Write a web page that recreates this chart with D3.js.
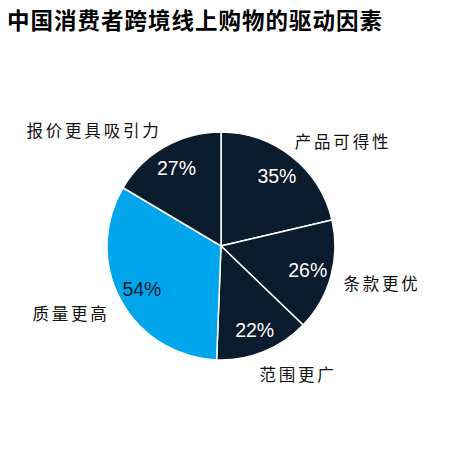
<!DOCTYPE html>
<html>
<head>
<meta charset="utf-8">
<script src="https://cdn.jsdelivr.net/npm/d3@7"></script>
<style>
  body { margin: 0; background: #fff; }
  svg { display: block; }
</style>
</head>
<body>
<div id="chart"></div>
<script>
// data
var categories = ["产品可得性", "条款更优", "范围更广", "质量更高", "报价更具吸引力"];
var values = [35, 26, 22, 54, 27];
var sliceColors = ["#0b1c2c", "#0b1c2c", "#0b1c2c", "#00a5ec", "#0b1c2c"];
var pctColors = ["#fff", "#fff", "#fff", "#0b1c2c", "#fff"];

// where the category names sit (label layout only)
var nameAnchors = [[343, 142], [382, 284], [298, 375], [71, 314], [94, 131]];

var svgWidth = 463;
var svgHeight = 463;
var cx = 221, cy = 246, radius = 114;

var svg = d3.select("#chart")
    .append("svg")
    .attr("width", svgWidth)
    .attr("height", svgHeight);

// title
svg.append("text")
    .attr("x", 7)
    .attr("y", 29)
    .style("font-family", "'Noto Sans CJK SC', sans-serif")
    .style("font-weight", "700")
    .style("font-size", "22.5px")
    .style("letter-spacing", "1px")
    .attr("fill", "#000")
    .text("中国消费者跨境线上购物的驱动因素");

var pie = d3.pie()
    .sort(null)
    .value(d => d);

var arc = d3.arc()
    .innerRadius(0)
    .outerRadius(radius);

var labelArc = d3.arc()
    .innerRadius(90)
    .outerRadius(90);

var pieGroup = svg.append("g")
    .attr("transform", `translate(${cx}, ${cy})`);

var arcs = pie(values);

pieGroup.selectAll("path")
    .data(arcs)
    .enter()
    .append("path")
    .attr("d", arc)
    .attr("fill", (d, i) => sliceColors[i])
    .attr("stroke", "#fff")
    .attr("stroke-width", 1.5);

// percent labels
pieGroup.selectAll("text.pct")
    .data(arcs)
    .enter()
    .append("text")
    .attr("class", "pct")
    .attr("transform", d => `translate(${labelArc.centroid(d)})`)
    .attr("text-anchor", "middle")
    .attr("dy", "0.36em")
    .style("font-family", "'Liberation Sans', Arial, sans-serif")
    .style("font-size", "19.5px")
    .attr("fill", (d, i) => pctColors[i])
    .text(d => d.data + "%");

// category names
svg.selectAll("text.name")
    .data(categories)
    .enter()
    .append("text")
    .attr("class", "name")
    .attr("x", (d, i) => nameAnchors[i][0])
    .attr("y", (d, i) => nameAnchors[i][1])
    .attr("text-anchor", "middle")
    .attr("dy", "0.36em")
    .style("font-family", "'Noto Sans CJK SC', sans-serif")
    .style("font-size", "16.5px")
    .style("letter-spacing", "2.8px")
    .attr("fill", "#111")
    .text(d => d);
</script>
</body>
</html>
